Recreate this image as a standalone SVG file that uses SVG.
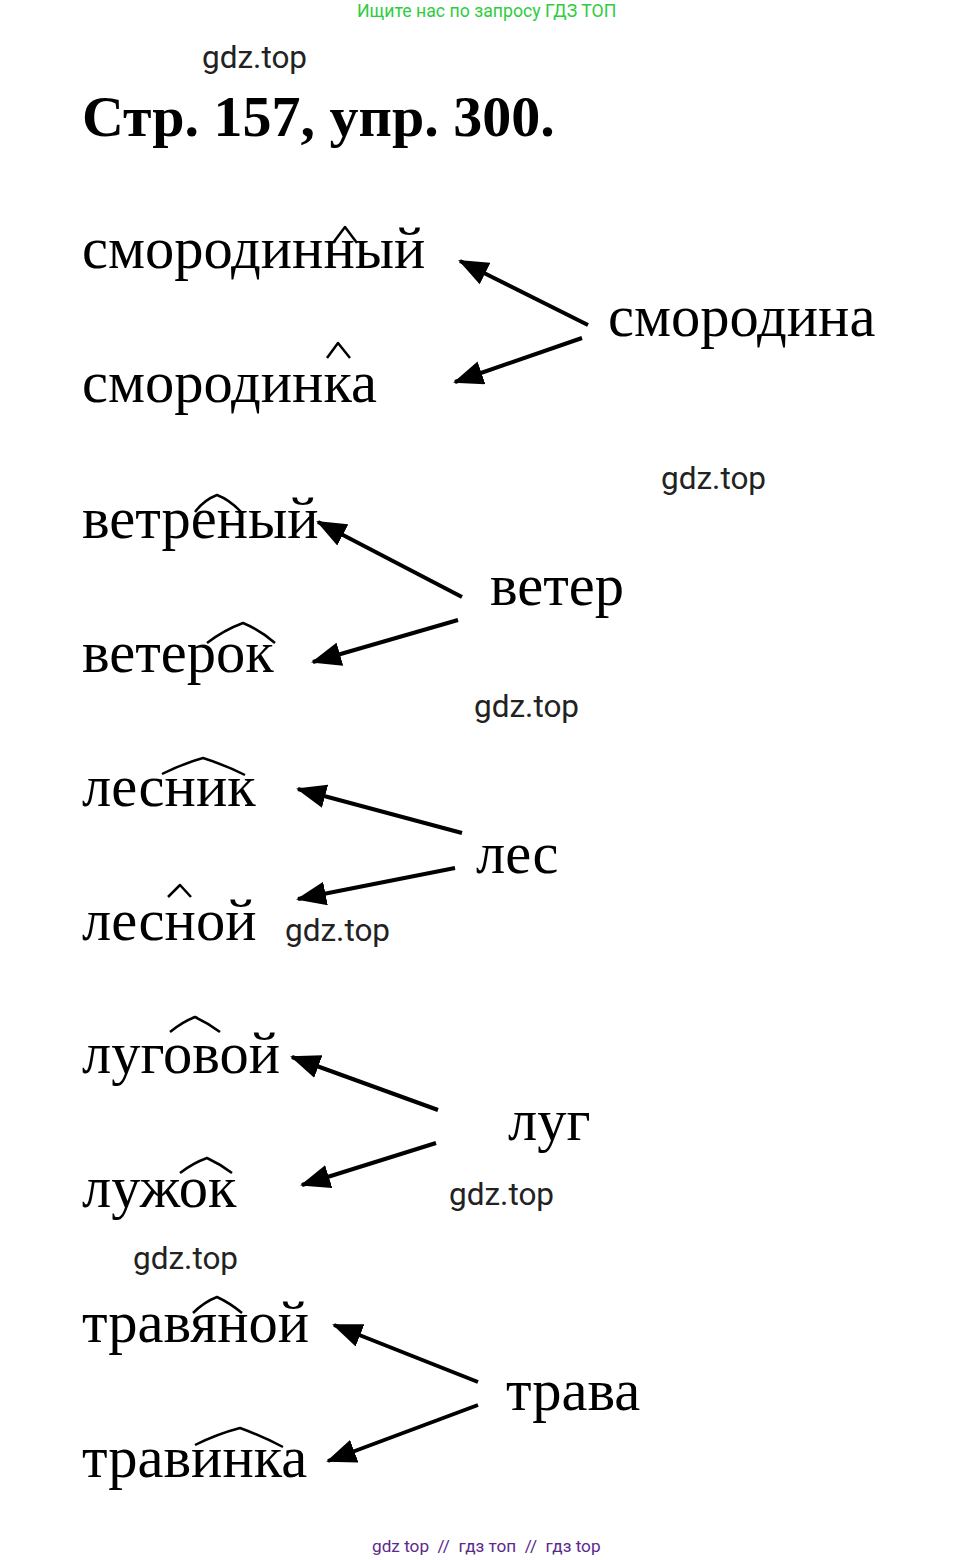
<svg xmlns="http://www.w3.org/2000/svg" width="975" height="1560" viewBox="0 0 975 1560">
<defs>
<style>
.w{font-family:"Liberation Serif","Times New Roman",serif;font-size:58.5px;fill:#000}
.t{font-family:"Liberation Serif","Times New Roman",serif;font-size:58px;font-weight:bold;fill:#000}
.g{font-family:Roboto,"Liberation Sans",sans-serif;font-size:31.5px;fill:#222}
.hdr{font-family:Roboto,"Liberation Sans",sans-serif;font-size:17.7px;fill:#2ecc40}
.ftr{font-family:Roboto,"Liberation Sans",sans-serif;font-size:17.2px;fill:#5b2a8c;white-space:pre}
.arc{fill:none;stroke:#000;stroke-width:2.5;stroke-linejoin:round}
.c line{stroke:#000;stroke-width:4;marker-end:url(#ah)}
</style>
<marker id="ah" markerUnits="userSpaceOnUse" viewBox="0 0 30 24" markerWidth="30" markerHeight="24" refX="28" refY="12" orient="auto">
<path d="M0,0 L30,12 L0,24 z" fill="#000"/>
</marker>
</defs>
<rect width="975" height="1560" fill="#fff"/>
<text class="hdr" x="357" y="17">Ищите нас по запросу ГДЗ ТОП</text>
<text class="g" x="202" y="68">gdz.top</text>
<text class="t" x="82" y="136">Стр. 157, упр. 300.</text>

<g id="n-smorodinny"><text class="w" x="82" y="268">смородинный</text><polyline class="arc" points="333,243 345,227 357,243"/></g>
<g id="n-smorodinka"><text class="w" x="82" y="402">смородинка</text><polyline class="arc" points="327,358 338,343 350,358"/></g>
<g id="n-smorodina"><text class="w" x="608" y="336">смородина</text></g>

<g id="n-vetreny"><text class="w" x="82" y="538">ветреный</text><path class="arc" d="M195,512 Q204,500 217,495 Q230,500 242,513"/></g>
<g id="n-veterok"><text class="w" x="82" y="672">ветерок</text><path class="arc" d="M207,643 Q224,630 243,623 Q260,630 275,643"/></g>
<g id="n-veter"><text class="w" x="490" y="605">ветер</text></g>

<g id="n-lesnik"><text class="w" x="82" y="806">лесник</text><path class="arc" d="M162,774 Q182,764 203,758 Q225,765 245,775"/></g>
<g id="n-lesnoy"><text class="w" x="82" y="940">лесной</text><polyline class="arc" points="168,897 180,885 191,897"/></g>
<g id="n-les"><text class="w" x="476" y="873">лес</text></g>

<g id="n-lugovoy"><text class="w" x="82" y="1073">луговой</text><path class="arc" d="M170,1032 Q182,1022 195,1017 Q208,1023 220,1032"/></g>
<g id="n-luzhok"><text class="w" x="82" y="1207">лужок</text><path class="arc" d="M180,1173 Q193,1163 207,1158 Q220,1164 232,1173"/></g>
<g id="n-lug"><text class="w" x="508" y="1140">луг</text></g>

<g id="n-travyanoy"><text class="w" x="82" y="1342">травяной</text><path class="arc" d="M193,1313 Q204,1302 217,1297 Q230,1303 242,1313"/></g>
<g id="n-travinka"><text class="w" x="82" y="1477">травинка</text><path class="arc" d="M195,1445 Q217,1434 240,1428 Q262,1436 283,1447"/></g>
<g id="n-trava"><text class="w" x="506" y="1410">трава</text></g>

<g id="connectors" class="c">
<line x1="588" y1="325" x2="460" y2="261"/>
<line x1="582" y1="338" x2="455" y2="382"/>
<line x1="462" y1="597" x2="318" y2="522"/>
<line x1="458" y1="620" x2="313" y2="662"/>
<line x1="462" y1="833" x2="298" y2="789"/>
<line x1="455" y1="868" x2="298" y2="899"/>
<line x1="438" y1="1110" x2="292" y2="1057"/>
<line x1="436" y1="1143" x2="302" y2="1185"/>
<line x1="478" y1="1382" x2="334" y2="1325"/>
<line x1="478" y1="1405" x2="328" y2="1461"/>
</g>

<text class="g" x="661" y="489">gdz.top</text>
<text class="g" x="474" y="717">gdz.top</text>
<text class="g" x="285" y="941">gdz.top</text>
<text class="g" x="449" y="1205">gdz.top</text>
<text class="g" x="133" y="1269">gdz.top</text>
<text class="ftr" x="372" y="1552" xml:space="preserve">gdz top  //  гдз топ  //  гдз top</text>
</svg>
